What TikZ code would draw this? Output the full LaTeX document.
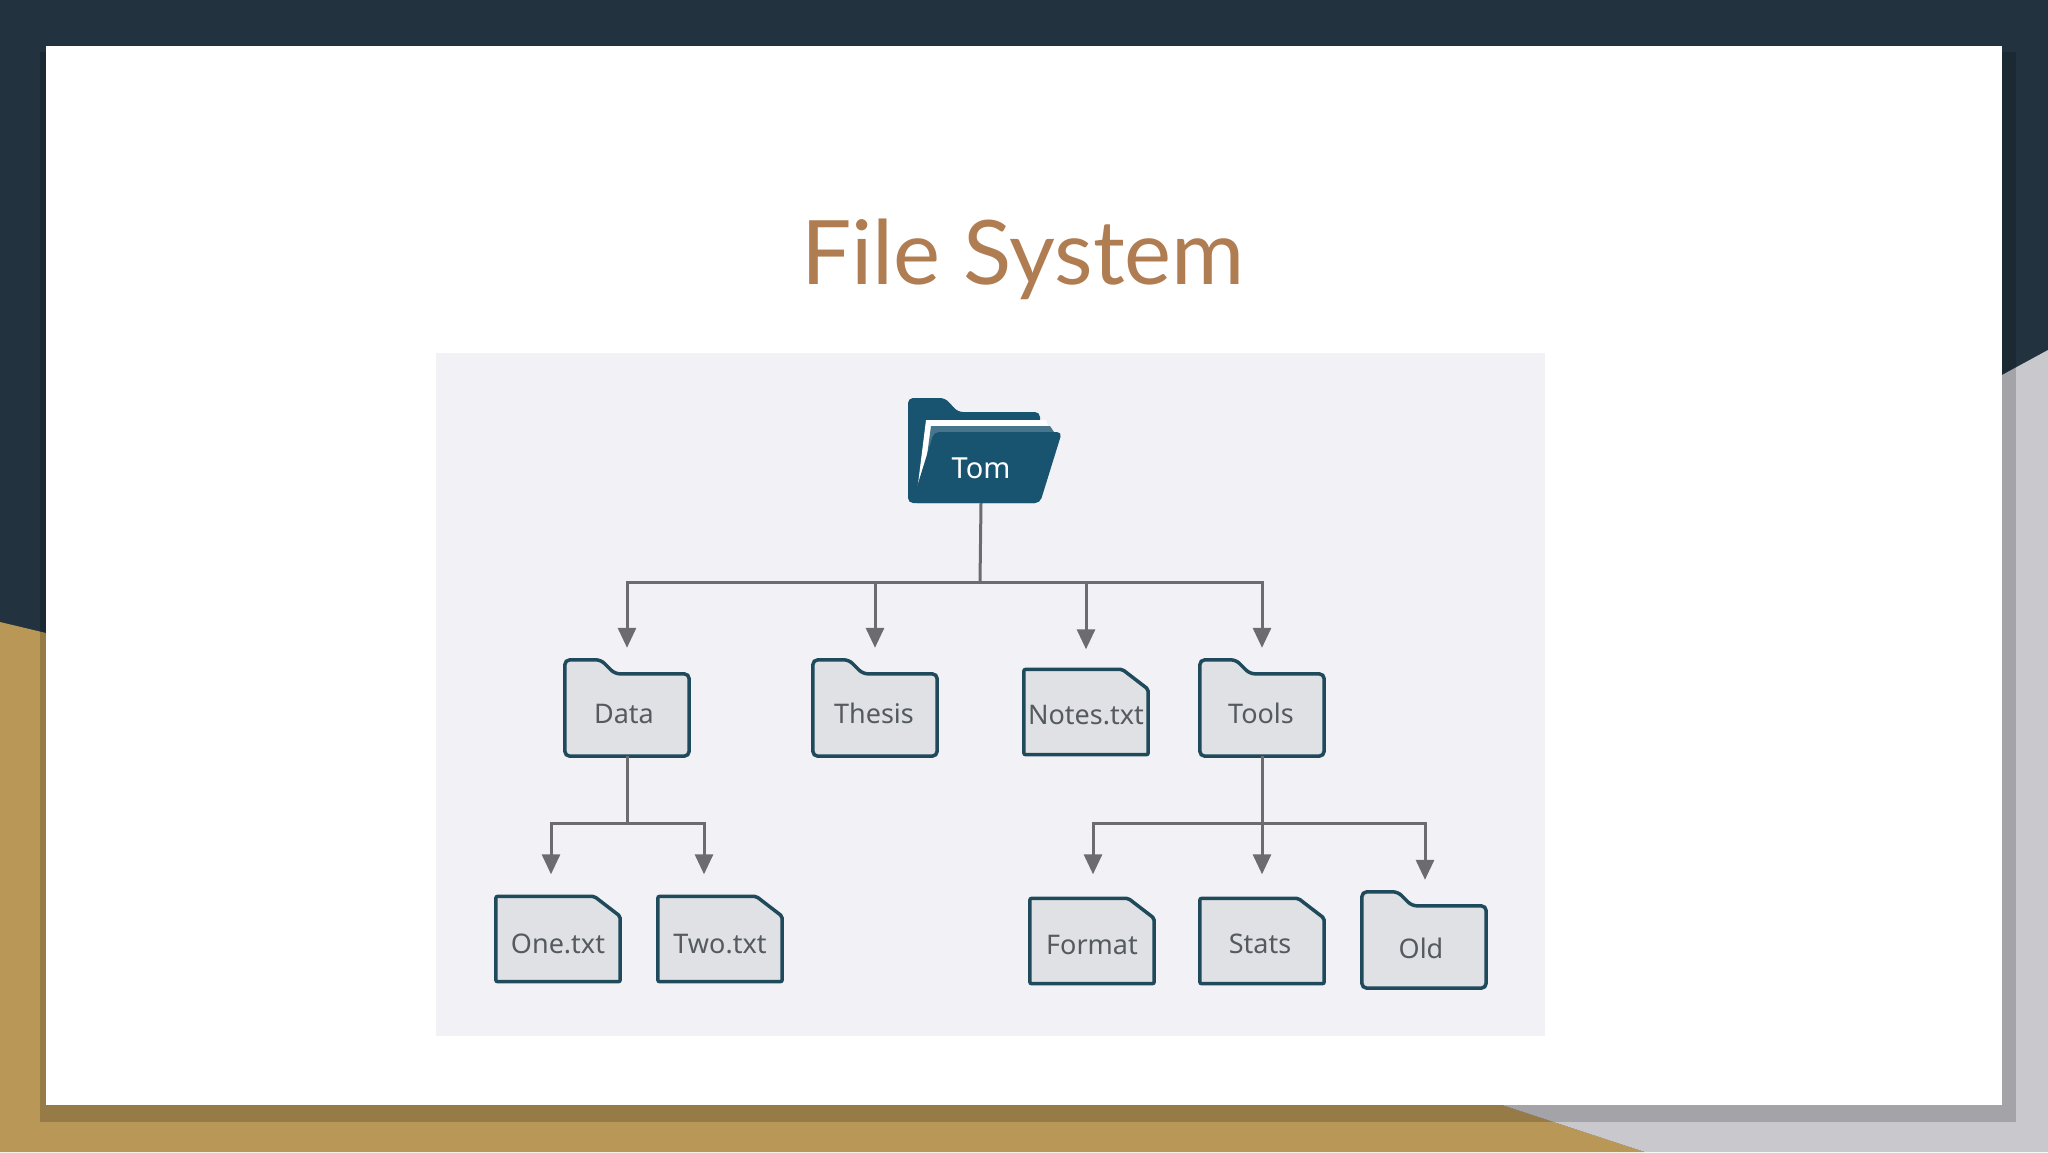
\documentclass[tikz,border=0pt]{standalone}
\usepackage{fontspec}
\setmainfont{Noto Sans}
\newfontfamily\titlefont{Lato}
\usetikzlibrary{calc,arrows.meta}
\definecolor{navy}{HTML}{22333F}
\definecolor{gold}{HTML}{B99757}
\definecolor{grayside}{HTML}{C9C9CD}
\definecolor{panel}{HTML}{F2F1F5}
\definecolor{titlec}{HTML}{B07D52}
\definecolor{edge}{HTML}{1F4A5C}
\definecolor{boxfill}{HTML}{DFE1E4}
\definecolor{txt}{HTML}{555A5F}
\definecolor{line}{HTML}{6B6B70}
\definecolor{tomc}{HTML}{18536F}
\tikzset{
  item/.style={minimum width=124pt, inner sep=0pt, font=\fontsize{27}{30}\selectfont, text=txt},
  folder/.style={item, minimum height=96pt},
  file/.style={item, minimum height=85pt},
  outline/.style={draw=edge, fill=boxfill, line width=3.5pt, rounded corners=5pt},
  conn/.style={draw=line, line width=3pt},
  arr/.style={conn, -{Triangle[width=18pt,length=20pt]}, shorten >=12pt},
}
\newcommand{\folderoutline}[1]{%
  \path[outline] (#1.north west) -- ($(#1.north west)+(36,0)$) -- ($(#1.north west)+(50,14)$)
   -- ($(#1.north east)+(0,14)$) -- (#1.south east) -- (#1.south west) -- cycle;}
\newcommand{\fileoutline}[1]{%
  \path[outline, rounded corners=2pt] (#1.north west) -- ($(#1.north east)+(-26,0)$) -- ($(#1.north east)+(0,20)$)
   -- (#1.south east) -- (#1.south west) -- cycle;}
\begin{document}
\begin{tikzpicture}[x=1pt,y=-1pt]
\useasboundingbox (0,0) rectangle (2048,1152);
% background
\fill[navy] (0,0) rectangle (2048,1152);
\fill[gold] (0,622) -- (46,633) -- (46,1105) -- (1502,1105) -- (1645,1152) -- (0,1152) -- cycle;
\fill[grayside] (2002,375) -- (2048,350) -- (2048,1152) -- (1645,1152) -- (1502,1105) -- (2002,1105) -- cycle;
\fill[black, opacity=0.18] (40,52) rectangle (2016,1122);
\fill[white] (46,46) rectangle (2002,1105);
\node[text=titlec, font=\titlefont\fontsize{89}{100}\selectfont] (title) at (1023,259) {File System};
\fill[panel] (436,353) rectangle (1545,1036);
% Tom folder
\fill[tomc, rounded corners=5pt] (908,503) -- (908,398) -- (945,398) -- (958,412) -- (1040,412) -- (1040,503) -- cycle;
\fill[white] (916,500) -- (926,420) -- (1046,420) -- (1050,432) -- cycle;
\fill[tomc!80!white] (921,500) -- (931,426) -- (1050,426) -- (1054,432) -- cycle;
\fill[tomc, rounded corners=5pt] (912,503) -- (934,432) -- (1062,432) -- (1040,503) -- cycle;
\node[font=\fontsize{29}{30}\selectfont, text=white, minimum height=70pt, inner sep=0pt] (tom) at (981,468) {Tom};
% level 1
\node[folder] (data) at (627,708) {};
\node[folder] (thesis) at (875,708) {};
\node[file] (notes) at (1086,712) {};
\node[folder] (tools) at (1262,708) {};
% level 2
\node[file] (one) at (558,939) {};
\node[file] (two) at (720,939) {};
\node[file] (format) at (1092,941) {};
\node[file] (stats) at (1262,941) {};
\node[folder] (old) at (1424,940) {};
\folderoutline{data}\folderoutline{thesis}\folderoutline{tools}\folderoutline{old}
\fileoutline{notes}\fileoutline{one}\fileoutline{two}\fileoutline{format}\fileoutline{stats}
\node[item] at ($(data)+(-3,6)$) {Data};
\node[item] at ($(thesis)+(-1,5)$) {Thesis};
\node[item] at ($(notes)+(0,3)$) {Notes.txt};
\node[item] at ($(tools)+(-1,5)$) {Tools};
\node[item] at ($(one)+(0,5)$) {One.txt};
\node[item] at ($(two)+(0,5)$) {Two.txt};
\node[item] at ($(format)+(0,4)$) {Format};
\node[item] at ($(stats)+(-2,3)$) {Stats};
\node[item] at ($(old)+(-3,8)$) {Old};
% connectors
\coordinate (b1) at (980,582);
\coordinate (b2) at (627,823);
\coordinate (b3) at (1262,823);
\draw[conn] (tom.south) -- (b1);
\draw[arr] (b1) -| (data.north);
\draw[arr] (b1) -| (thesis.north);
\draw[arr] (b1) -| ($(notes.north)+(0,-8)$);
\draw[arr] (b1) -| (tools.north);
\draw[conn] (data.south) -- (b2);
\draw[arr] (b2) -| ($(one.north)+(-7,-10)$);
\draw[arr] (b2) -| ($(two.north)+(-16,-10)$);
\draw[conn] (tools.south) -- (b3);
\draw[arr] (b3) -| ($(format.north)+(1,-12)$);
\draw[arr] (b3) -| ($(stats.north)+(0,-12)$);
\draw[arr] (b3) -| ($(old.north)+(1,0)$);
\end{tikzpicture}
\end{document}
